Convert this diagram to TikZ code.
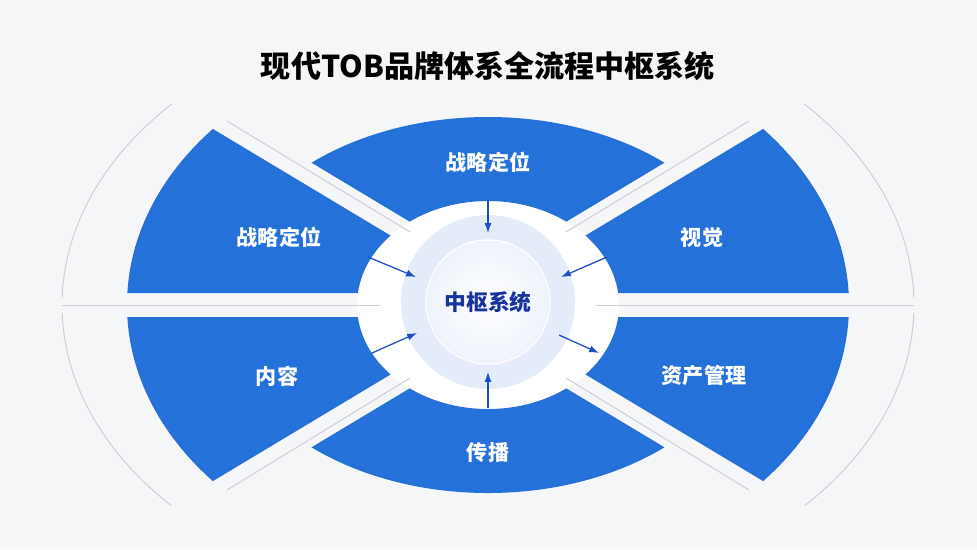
\documentclass[tikz,border=0pt]{standalone}
\usepackage{fontspec}
\setmainfont{Noto Sans CJK SC}
\usetikzlibrary{arrows.meta}
\usetikzlibrary{calc}

\definecolor{segblue}{HTML}{2571DA}
\definecolor{flowblue}{HTML}{1B4FC4}
\definecolor{hubnavy}{HTML}{17349C}
\definecolor{guidegray}{HTML}{CDCED2}
\definecolor{paper}{HTML}{F5F6F8}
\definecolor{halo}{HTML}{E4ECF9}
\definecolor{corerim}{HTML}{EEF3FB}

\begin{document}
\begin{tikzpicture}[
      x = 0.025cm, y = -0.025cm,
      >={Latex[length=7pt, width=5pt]},
      seg/.style = { fill = segblue, even odd rule },
      guide/.style = { draw = guidegray, line width = 0.7pt },
      flow/.style = { ->, draw = flowblue, line width = 0.9pt },
      seglabel/.style = {
        text = white,
        font = \bfseries\fontsize{15}{18}\selectfont
      },
      core/.style = {
        circle, inner sep = 0,
        minimum size = 3.1cm,
        draw = white, line width = 0.8pt,
        inner color = white, outer color = corerim,
        text = hubnavy,
        font = \bfseries\fontsize{15.5}{18}\selectfont
      },
    ]

    \useasboundingbox (0,0) rectangle (977,549);
    \fill[paper] (0,0) rectangle (977,549);
    \fill[white] (488,305) ellipse [x radius=131, y radius=104];

    % outer guide arcs
    \foreach \a/\b in {138/178.5, 181.5/222, -42/-1.5, 1.5/42} {
      \draw[guide] plot[domain=\a:\b, samples=60] ({488+426*cos(\x)}, {305+300*sin(\x)});
    }
    \draw[guide] (62,305.5) -- (380,305.5);
    \draw[guide] (596,305.5) -- (914,305.5);
    \draw[guide] (227,121) -- (410,232);
    \draw[guide] (227,490) -- (410,378);
    \draw[guide] (749,121) -- (566,232);
    \draw[guide] (749,490) -- (566,378);

    % blue ring pieces
    \begin{scope}
      \clip (488,268.6) -- (40.3,0) -- (935.7,0) -- cycle;
      \fill[seg] (488,305) ellipse [x radius=270, y radius=188]
                 (488,305) ellipse [x radius=131, y radius=104];
    \end{scope}
    \begin{scope}
      \clip (488,341.4) -- (40.3,610) -- (935.7,610) -- cycle;
      \fill[seg] (488,305) ellipse [x radius=270, y radius=188]
                 (488,305) ellipse [x radius=131, y radius=104];
    \end{scope}
    \foreach \p in {{(0,1.2) -- (486.3,293) -- (0,293)},
                    {(0,608.8) -- (486.3,317) -- (0,317)},
                    {(976,1.2) -- (489.7,293) -- (976,293)},
                    {(976,608.8) -- (489.7,317) -- (976,317)}} {
      \begin{scope}
        \clip \p -- cycle;
        \fill[seg] (488,305) ellipse [x radius=361, y radius=272]
                   (488,305) ellipse [x radius=131, y radius=104];
      \end{scope}
    }

    \node[font=\bfseries\fontsize{21.4}{26}\selectfont] (title) at (488,66) {现代TOB品牌体系全流程中枢系统};

    \foreach \n/\x/\y/\t in {segTop/488/162/战略定位, segUL/279/237/战略定位, segUR/702/237/视觉,
                             segLL/277/376/内容, segLR/704/376/资产管理, segBot/488/453/传播} {
      \node[seglabel] (\n) at (\x,\y) {\t};
    }

    % hub
    \fill[halo] (488,302) circle [radius=87];
    \fill[halo!80!blue!30] (488,304) circle [radius=63];
    \node[core] (hub) at (488,302) {中枢系统};

    \foreach \a/\b/\c/\d [count=\i] in {488/200/488/233, 368/257/416/277, 607/257/561/277,
                                        372/353/417/333, 488/408/488/372, 559/335/599/353} {
      \coordinate (s\i) at (\a,\b);
      \coordinate (e\i) at (\c,\d);
      \draw[flow] (s\i) -- (e\i);
    }
  \end{tikzpicture}
\end{document}
